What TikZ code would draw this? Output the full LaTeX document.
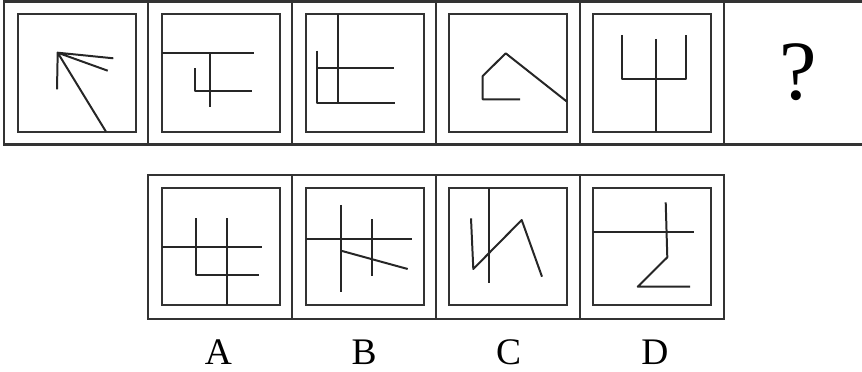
\documentclass[tikz,border=0pt]{standalone}
\usepackage{fontspec}
\setmainfont{Liberation Serif}

\begin{document}
\begin{tikzpicture}[x=0.03cm, y=-0.03cm]
  \tikzset{
    frame/.style={draw=black!80, line width=1.8pt},
    figline/.style={draw=black!85, line width=1.7pt, line join=round},
    optlabel/.style={font=\fontsize{32}{32}\selectfont, anchor=base, inner sep=0pt}
  }
  \useasboundingbox (0,0) rectangle (862,372);

  % row edges in pixels, counted from the top
  \def\yTopA{1.5}
  \def\yTopB{144.5}
  \def\yBotA{175}
  \def\yBotB{319}

  % Top row frame, open to the right
  \draw[frame] (862,\yTopA) -- (4,\yTopA) -- (4,\yTopB) -- (862,\yTopB);
  \foreach \x in {148,292,436,580,724}
    \draw[frame] (\x,\yTopA) -- (\x,\yTopB);
  \foreach \x in {18,162,306,449,593}
    \draw[frame] (\x,14) rectangle ++(118,118);

  % Bottom row frame
  \draw[frame] (148,\yBotA) rectangle (724,\yBotB);
  \foreach \x in {292,436,580}
    \draw[frame] (\x,\yBotA) -- (\x,\yBotB);
  \foreach \x in {162,306,449,593}
    \draw[frame] (\x,188) rectangle ++(118,117);

  % Figure 1: fan
  \draw[figline] (57,89.3) -- (57.7,52.7) -- (106,131.7);
  \draw[figline] (113.3,58.3) -- (57.7,52.7) -- (107.7,70.7);

  % Figure 2
  \draw[figline] (162,53.3) -- (254.3,53.3);
  \draw[figline] (210.3,53.3) -- (210.3,107.3);
  \draw[figline] (195,68.3) -- (195,91) -- (251.7,91);

  % Figure 3
  \draw[figline] (338,14) -- (338,103.3);
  \draw[figline] (317.3,50.7) -- (317.3,103.3) -- (395,103.3);
  \draw[figline] (317.3,68.3) -- (394.3,68.3);

  % Figure 4: open polygon
  \draw[figline] (520,99.3) -- (482.7,99.3) -- (482.7,76) -- (505.7,53.3) -- (567,101.7);

  % Figure 5: trident
  \draw[figline] (621.7,35) -- (621.7,79) -- (685.7,79) -- (685.7,35);
  \draw[figline] (656,39) -- (656,132);

  % Missing figure
  \node[font=\fontsize{72}{72}\selectfont] (qmark) at (798,72) {?};

  % Option A
  \draw[figline] (162,246.7) -- (262.3,246.7);
  \draw[figline] (196,218.3) -- (196,275) -- (259,275);
  \draw[figline] (227.3,218.3) -- (227.3,305);

  % Option B
  \draw[figline] (341,205) -- (341,292.3);
  \draw[figline] (306,239.3) -- (411.7,239.3);
  \draw[figline] (371.7,219.3) -- (371.7,275.7);
  \draw[figline] (341,250.7) -- (407.7,269);

  % Option C
  \draw[figline] (489,188) -- (489,282.7);
  \draw[figline] (471,218.3) -- (473.3,269) -- (521.7,220) -- (542,276.7);

  % Option D
  \draw[figline] (593,231.7) -- (694,231.7);
  \draw[figline] (665.7,202.3) -- (667.3,257.3) -- (637.7,286.7) -- (690,286.7);

  % Option labels
  \node[optlabel] (labA) at (218.5,365) {A};
  \node[optlabel] (labB) at (364,365) {B};
  \node[optlabel] (labC) at (508.5,365) {C};
  \node[optlabel] (labD) at (655,365) {D};

\end{tikzpicture}
\end{document}
